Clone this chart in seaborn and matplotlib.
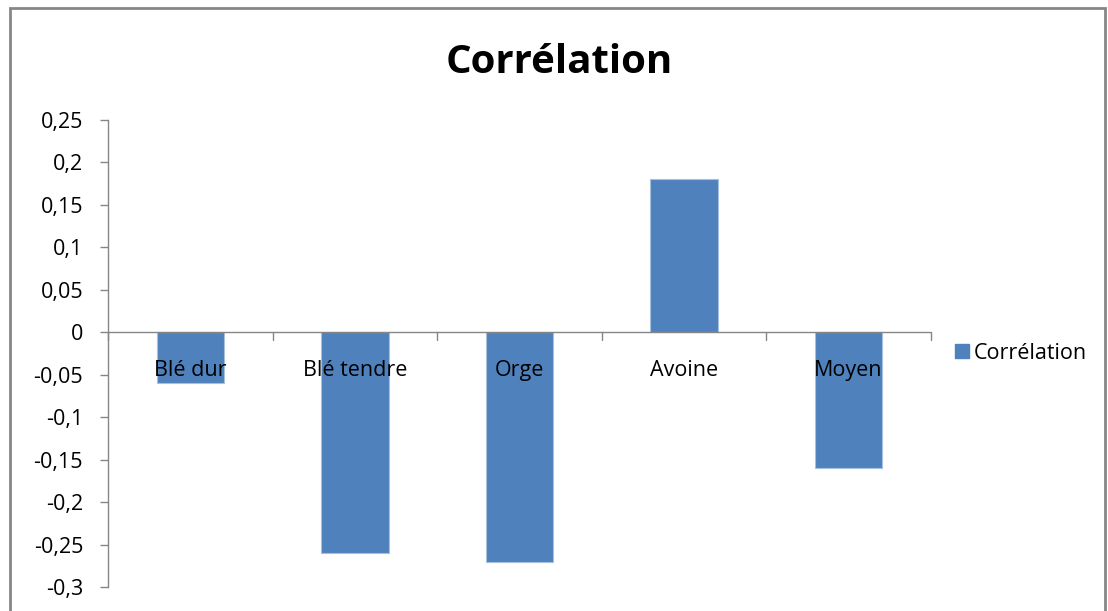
import matplotlib.pyplot as plt
import matplotlib.patches as mpatches
from matplotlib.ticker import FuncFormatter
import seaborn as sns
import pandas as pd

# data
categories = ["Blé dur", "Blé tendre", "Orge", "Avoine", "Moyen"]
values = [-0.06, -0.26, -0.27, 0.18, -0.16]
series_name = "Corrélation"

df = pd.DataFrame({"cat": categories, "val": values})

sns.set_theme(style="white")
plt.rcParams["font.family"] = ["Open Sans", "DejaVu Sans"]

fig = plt.figure(figsize=(11.08, 6.11), dpi=100)
ax = fig.add_axes([0.0975, 0.0393, 0.7425, 0.7643])

bar_color = "#4F81BD"
sns.barplot(data=df, x="cat", y="val", color=bar_color, width=0.41,
            edgecolor="#A7C0DE", linewidth=0.8, ax=ax, saturation=1)

ax.set_ylim(-0.3, 0.25)
ax.set_xlim(-0.5, len(categories) - 0.5)
ax.set_yticks([-0.3 + 0.05 * i for i in range(12)])
ax.yaxis.set_major_formatter(FuncFormatter(
    lambda v, p: ("%g" % round(v, 2)).replace(".", ",")))
ax.tick_params(axis="y", labelsize=15.5, colors="#868686", length=6,
               width=1, direction="out", left=True, labelcolor="black",
               pad=12)

# category boundaries as ticks on the zero line
ax.set_xticks([])
ax.set_xlabel("")
ax.set_ylabel("")
for s in ["top", "right", "bottom"]:
    ax.spines[s].set_visible(False)
ax.spines["left"].set_color("#868686")
ax.spines["left"].set_linewidth(1)
ax.axhline(0, color="#868686", lw=1, zorder=1)
for b in range(len(categories) + 1):
    ax.plot([b - 0.5, b - 0.5], [0, -0.009], color="#868686", lw=1,
            clip_on=False, zorder=1)

# category labels sitting just under the zero line
for i, c in enumerate(categories):
    ax.text(i, -0.045, c, ha="center", va="center", fontsize=15.5,
            color="black", zorder=5)

# title
fig.text(0.505, 0.898, series_name, ha="center", va="center",
         fontsize=29, fontweight="bold", color="black")

# legend
handle = mpatches.Patch(color=bar_color, label=series_name)
fig.legend(handles=[handle], loc="center left",
           bbox_to_anchor=(0.844, 0.422), frameon=False, fontsize=15.5,
           handlelength=0.65, handleheight=0.65, handletextpad=0.25,
           labelcolor="black")

# chart border
fig.patches.append(mpatches.Rectangle((0.009, -0.05), 0.988, 1.037,
                                      transform=fig.transFigure,
                                      fill=False, edgecolor="#868686", lw=2))

fig.savefig("out.png", dpi=100)
